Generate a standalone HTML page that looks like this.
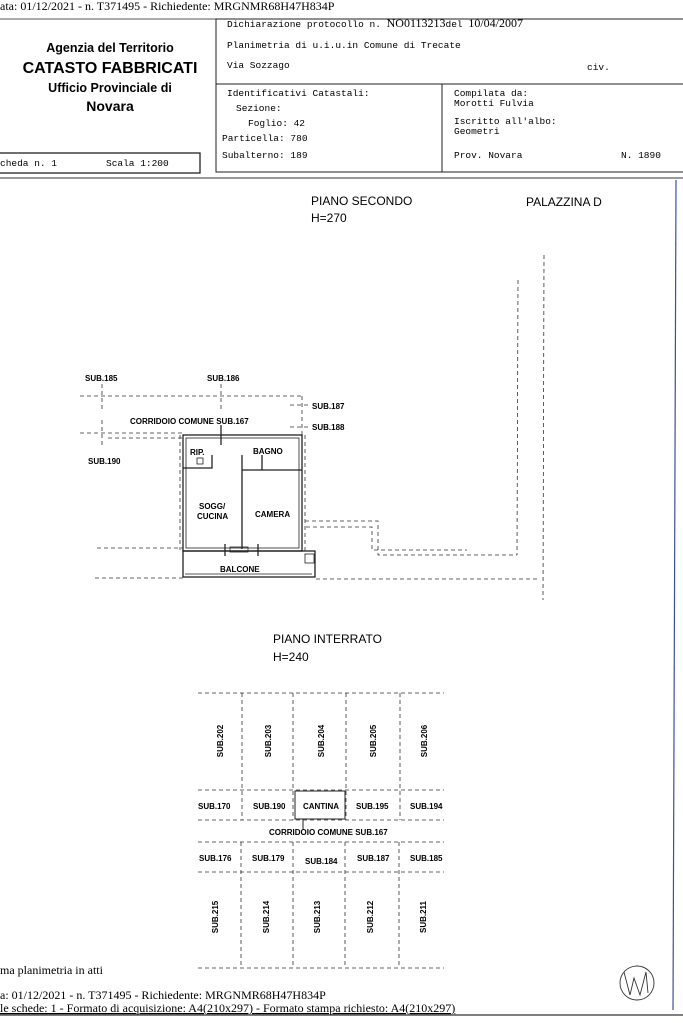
<!DOCTYPE html>
<html><head><meta charset="utf-8"><style>
html,body{margin:0;padding:0;background:#fff;}
svg{display:block;}
.s{font-family:"Liberation Sans",sans-serif;}
.m{font-family:"Liberation Mono",monospace;font-size:9.5px;}
.r{font-family:"Liberation Serif",serif;font-size:12px;}
.l{font-family:"Liberation Sans",sans-serif;font-size:8px;font-weight:bold;}
</style></head><body>
<svg width="683" height="1023" viewBox="0 0 683 1023" xmlns="http://www.w3.org/2000/svg">
<rect width="683" height="1023" fill="#fff"/>
<text x="0" y="10" class="r">ata: 01/12/2021 - n. T371495 - Richiedente: MRGNMR68H47H834P</text>
<line x1="0" y1="19" x2="683" y2="19" stroke="#555" stroke-width="1"/>
<rect x="216" y="19" width="475" height="153" fill="none" stroke="#222" stroke-width="1"/>
<line x1="216" y1="84" x2="683" y2="84" stroke="#222"/>
<line x1="442" y1="84" x2="442" y2="172" stroke="#222"/>
<rect x="-2" y="153" width="202" height="20" fill="none" stroke="#222" stroke-width="1.3"/>
<line x1="0" y1="178" x2="683" y2="178" stroke="#333" stroke-width="1"/>
<text x="110" y="52" text-anchor="middle" class="s" font-size="12.5" font-weight="bold">Agenzia del Territorio</text>
<text x="110" y="73" text-anchor="middle" class="s" font-size="16" font-weight="bold">CATASTO FABBRICATI</text>
<text x="110" y="92" text-anchor="middle" class="s" font-size="12.5" font-weight="bold">Ufficio Provinciale di</text>
<text x="110" y="111" text-anchor="middle" class="s" font-size="14" font-weight="bold">Novara</text>
<text x="0" y="166" class="m">cheda n. 1</text>
<text x="106" y="166" class="m">Scala 1:200</text>
<text x="227" y="27" class="m">Dichiarazione protocollo n. <tspan class="r">NO0113213</tspan>del  <tspan class="r">10/04/2007</tspan></text>
<text x="227" y="48" class="m">Planimetria di u.i.u.in Comune di Trecate</text>
<text x="227" y="68" class="m">Via Sozzago</text>
<text x="587" y="70" class="m">civ.</text>
<text x="227" y="96" class="m">Identificativi Catastali:</text>
<text x="236" y="111" class="m">Sezione:</text>
<text x="248" y="126" class="m">Foglio: 42</text>
<text x="222" y="141" class="m">Particella: 780</text>
<text x="222" y="158" class="m">Subalterno: 189</text>
<text x="454" y="96" class="m">Compilata da:</text>
<text x="454" y="106" class="m">Morotti Fulvia</text>
<text x="454" y="124" class="m">Iscritto all'albo:</text>
<text x="454" y="134" class="m">Geometri</text>
<text x="454" y="158" class="m">Prov. Novara</text>
<text x="621" y="158" class="m">N. 1890</text>
<line x1="676" y1="180" x2="673" y2="1010" stroke="#3a4fa0" stroke-width="1.2"/>
<text x="311" y="205" class="s" font-size="12">PIANO SECONDO</text>
<text x="311" y="222" class="s" font-size="12">H=270</text>
<text x="526" y="206" class="s" font-size="12">PALAZZINA D</text>
<g stroke="#333" stroke-width="0.8" stroke-dasharray="4,3" fill="none">
<line x1="544" y1="255" x2="543" y2="600"/>
<line x1="518" y1="280" x2="517" y2="555"/>
<polyline points="305,521 378,521 378,555 517,555"/>
<polyline points="306,527 372,527 372,550 467,550"/>
<line x1="80" y1="396" x2="302" y2="396"/>
<line x1="102" y1="384" x2="102" y2="412"/>
<line x1="221" y1="384" x2="221" y2="412"/>
<line x1="302" y1="396" x2="302" y2="435"/>
<line x1="290" y1="405" x2="310" y2="405"/>
<line x1="290" y1="427" x2="310" y2="427"/>
<line x1="80" y1="433" x2="183" y2="433"/>
<line x1="108" y1="438" x2="183" y2="438"/>
<line x1="102" y1="420" x2="102" y2="446"/>
<line x1="305" y1="435" x2="305" y2="555"/>
<line x1="180" y1="435" x2="180" y2="550"/>
<line x1="97" y1="548" x2="183" y2="548"/>
<line x1="95" y1="578" x2="183" y2="578"/>
<line x1="316" y1="579" x2="540" y2="579"/>
</g>
<text x="85" y="381" class="l">SUB.185</text>
<text x="207" y="381" class="l">SUB.186</text>
<text x="312" y="409" class="l">SUB.187</text>
<text x="312" y="430" class="l">SUB.188</text>
<text x="88" y="464" class="l">SUB.190</text>
<text x="130" y="424" class="l">CORRIDOIO COMUNE SUB.167</text>
<g stroke="#222" fill="none" stroke-width="1.3">
<rect x="183" y="435" width="119" height="116"/>
<rect x="186" y="438" width="113" height="110" stroke-width="0.8"/>
<rect x="183" y="551" width="132" height="26"/>
<line x1="185" y1="574" x2="312" y2="574" stroke-width="0.8"/>
<line x1="242" y1="455" x2="242" y2="549"/>
<line x1="242" y1="470" x2="302" y2="470"/>
<line x1="262" y1="455" x2="262" y2="470"/>
<polyline points="212,455 212,468 183,468"/>
<rect x="197" y="458" width="6" height="6" stroke-width="0.8"/>
<line x1="221" y1="425" x2="221" y2="445"/>
<line x1="225" y1="544" x2="225" y2="556"/>
<line x1="258" y1="544" x2="258" y2="556"/>
<rect x="230" y="547" width="18" height="5" stroke-width="0.8"/>
<rect x="305" y="554" width="9" height="9" stroke-width="0.8"/>
</g>
<text x="190" y="455" class="l" font-size="8.5">RIP.</text>
<text x="253" y="454" class="l" font-size="8.5">BAGNO</text>
<text x="199" y="509" class="l" font-size="8.5">SOGG/</text>
<text x="197" y="519" class="l" font-size="8.5">CUCINA</text>
<text x="255" y="517" class="l" font-size="8.5">CAMERA</text>
<text x="220" y="572" class="l" font-size="8.5">BALCONE</text>
<text x="273" y="643" class="s" font-size="12">PIANO INTERRATO</text>
<text x="273" y="661" class="s" font-size="12">H=240</text>
<g stroke="#333" stroke-width="0.8" stroke-dasharray="4,3" fill="none">
<line x1="198" y1="693" x2="444" y2="693"/>
<line x1="198" y1="790" x2="444" y2="790"/>
<line x1="198" y1="820" x2="444" y2="820"/>
<line x1="198" y1="842" x2="444" y2="842"/>
<line x1="198" y1="872" x2="444" y2="872"/>
<line x1="198" y1="968" x2="444" y2="968"/>
<line x1="242" y1="693" x2="242" y2="820"/>
<line x1="293" y1="693" x2="293" y2="820"/>
<line x1="346" y1="693" x2="346" y2="820"/>
<line x1="400" y1="693" x2="400" y2="820"/>
<line x1="241" y1="842" x2="241" y2="968"/>
<line x1="293" y1="842" x2="293" y2="968"/>
<line x1="345" y1="842" x2="345" y2="968"/>
<line x1="399" y1="842" x2="399" y2="968"/>
</g>
<g stroke="#222" fill="none" stroke-width="1">
<rect x="295" y="791" width="50" height="28"/>
<line x1="303" y1="819" x2="303" y2="829"/>
</g>
<text transform="translate(223,741) rotate(-90)" text-anchor="middle" class="l">SUB.202</text>
<text transform="translate(271,741) rotate(-90)" text-anchor="middle" class="l">SUB.203</text>
<text transform="translate(324,741) rotate(-90)" text-anchor="middle" class="l">SUB.204</text>
<text transform="translate(376,741) rotate(-90)" text-anchor="middle" class="l">SUB.205</text>
<text transform="translate(427,741) rotate(-90)" text-anchor="middle" class="l">SUB.206</text>
<text transform="translate(218,917) rotate(-90)" text-anchor="middle" class="l">SUB.215</text>
<text transform="translate(269,917) rotate(-90)" text-anchor="middle" class="l">SUB.214</text>
<text transform="translate(320,917) rotate(-90)" text-anchor="middle" class="l">SUB.213</text>
<text transform="translate(373,917) rotate(-90)" text-anchor="middle" class="l">SUB.212</text>
<text transform="translate(426,917) rotate(-90)" text-anchor="middle" class="l">SUB.211</text>
<text x="198" y="809" class="l">SUB.170</text>
<text x="253" y="809" class="l">SUB.190</text>
<text x="303" y="809" class="l">CANTINA</text>
<text x="356" y="809" class="l">SUB.195</text>
<text x="410" y="809" class="l">SUB.194</text>
<text x="269" y="835" class="l">CORRIDOIO COMUNE SUB.167</text>
<text x="199" y="861" class="l">SUB.176</text>
<text x="252" y="861" class="l">SUB.179</text>
<text x="305" y="864" class="l">SUB.184</text>
<text x="357" y="861" class="l">SUB.187</text>
<text x="410" y="861" class="l">SUB.185</text>
<g stroke="#333" fill="none" stroke-width="0.9">
<circle cx="637" cy="983" r="17"/>
<polyline points="624,972 630,995 634,978 640,995 646,972 648,993"/>
</g>
<text x="0" y="974" class="r">ma planimetria in atti</text>
<text x="0" y="999" class="r">a: 01/12/2021 - n. T371495 - Richiedente: MRGNMR68H47H834P</text>
<text x="0" y="1012" class="r" text-decoration="underline">le schede: 1 - Formato di acquisizione: A4(210x297)  - Formato stampa richiesto: A4(210x297)</text>
<line x1="0" y1="1015" x2="683" y2="1015" stroke="#333" stroke-width="1.2"/>
</svg>
</body></html>
